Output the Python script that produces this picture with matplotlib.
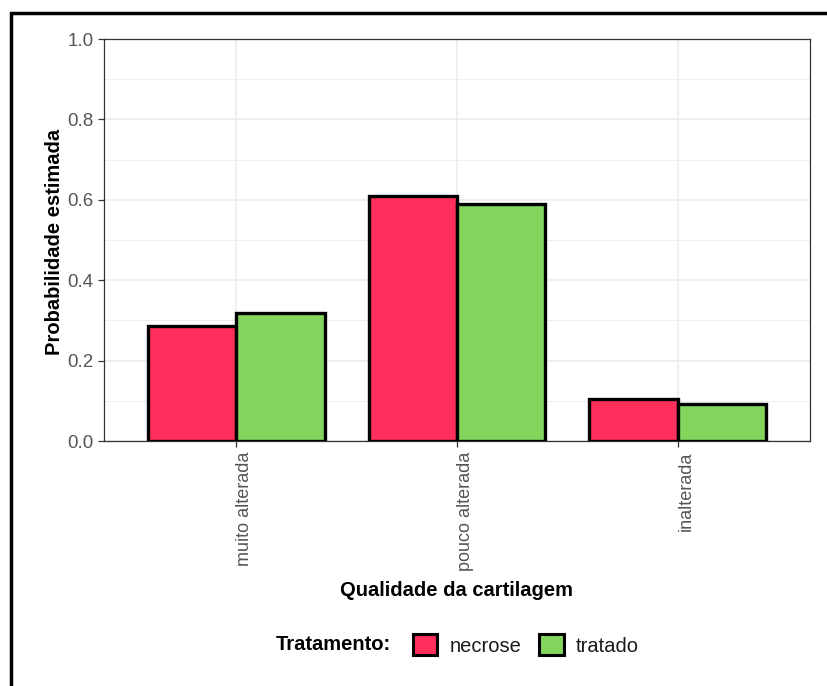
import matplotlib
matplotlib.use("Agg")
import matplotlib.pyplot as plt
import matplotlib.patches as mpatches
import matplotlib.transforms as mtransforms
import numpy as np

plt.rcParams['font.family'] = ['Liberation Sans', 'DejaVu Sans']

categories = ["muito alterada", "pouco alterada", "inalterada"]
groups = ["necrose", "tratado"]
necrose = [0.286, 0.609, 0.104]
tratado = [0.318, 0.590, 0.092]
y_ticks = [0.0, 0.2, 0.4, 0.6, 0.8, 1.0]
y_tick_labels = ["0.0", "0.2", "0.4", "0.6", "0.8", "1.0"]

colors = {"necrose": "#FF2E5B", "tratado": "#83D55D"}
tick_grey = "#555555"
grid_grey = "#EBEBEB"

fig = plt.figure(figsize=(8.27, 6.86), dpi=100)
ax = fig.add_axes([104 / 827, 1 - 441 / 686, (810 - 104) / 827, (441 - 39) / 686])

x = np.arange(1, len(categories) + 1)
width = 0.4
ax.bar(x - width / 2, necrose, width, color=colors["necrose"], edgecolor="black",
       linewidth=2.4, zorder=3)
ax.bar(x + width / 2, tratado, width, color=colors["tratado"], edgecolor="black",
       linewidth=2.4, zorder=3)

ax.set_xlim(0.4, 3.6)
ax.set_ylim(0, 1.0)
ax.set_yticks(y_ticks)
ax.set_yticklabels(y_tick_labels)
ax.set_yticks(np.arange(0.1, 1.0, 0.2), minor=True)
ax.set_xticks(x)
ax.set_xticklabels(categories, rotation=90, ha="left", va="top", fontsize=13)
offset = mtransforms.ScaledTranslation(5 / 100, 0, fig.dpi_scale_trans)
for lbl in ax.get_xticklabels():
    lbl.set_transform(lbl.get_transform() + offset)

ax.grid(True, which="major", color=grid_grey, linewidth=1.1, zorder=0)
ax.grid(True, which="minor", axis="y", color=grid_grey, linewidth=0.6, zorder=0)
ax.set_axisbelow(True)

for s in ax.spines.values():
    s.set_color("#333333")
    s.set_linewidth(0.9)

ax.tick_params(axis="both", which="major", colors="#333333", labelcolor=tick_grey,
               length=4, width=0.9)
ax.tick_params(axis="y", which="major", labelsize=13.5)
ax.tick_params(axis="y", which="minor", length=0)
ax.tick_params(axis="x", pad=4)

fig.text(54 / 827, 1 - 242 / 686, "Probabilidade estimada", fontsize=14.5,
         fontweight="bold", rotation=90, ha="center", va="center")
fig.text(456 / 827, 1 - 590 / 686, "Qualidade da cartilagem", fontsize=14.5,
         fontweight="bold", ha="center", va="center")

# Legend along the bottom
fig.text(276 / 827, 1 - 645 / 686, "Tratamento:", fontsize=14.5, fontweight="bold",
         ha="left", va="center")
handles = [mpatches.Patch(facecolor=colors[g], edgecolor="black", linewidth=2.2)
           for g in groups]
fig.legend(handles, groups, loc="center left", bbox_to_anchor=(395 / 827, 1 - 645 / 686),
           ncol=2, frameon=False, fontsize=14.5, handlelength=1.2, handleheight=1.2,
           handletextpad=0.6, columnspacing=0.9, labelcolor="#1A1A1A")

# Outer frame
frame = mpatches.Rectangle((11 / 827, -0.05), 1.1, 1 - 13 / 686 + 0.05,
                           transform=fig.transFigure, fill=False, edgecolor="black",
                           linewidth=2.5, clip_on=False)
fig.patches.append(frame)

fig.savefig("out.png", dpi=100)
